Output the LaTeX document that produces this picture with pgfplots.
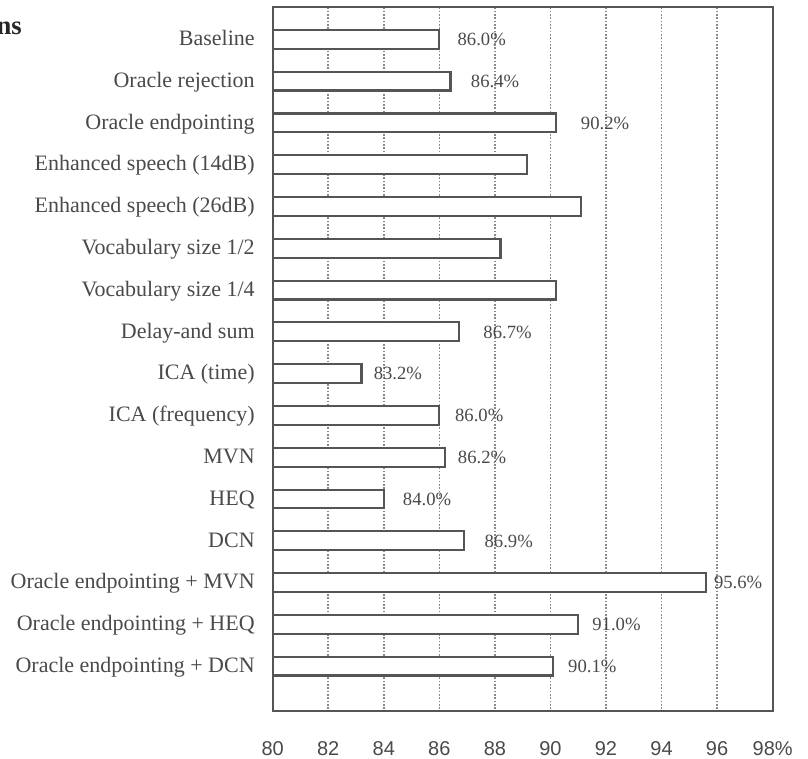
\documentclass[border=0pt]{standalone}
\usepackage{pgfplots}
\pgfplotsset{compat=1.18}
\usepackage{pgfplotstable}
\usepackage{fontspec}
\setmainfont{Liberation Serif}
\newfontfamily\arialf{Liberation Sans}
\definecolor{frame}{HTML}{555555}
\definecolor{txt}{HTML}{4A4A4A}
\definecolor{gridc}{HTML}{8A8A8A}

\pgfplotstableread{
idx val
1 86.0
2 86.4
3 90.2
4 89.15
5 91.1
6 88.2
7 90.2
8 86.7
9 83.2
10 86.0
11 86.2
12 84.0
13 86.9
14 95.6
15 91.0
16 90.1
}\bars

\pgfplotstableread{
idx pos lab
1 86.65 86.0
2 87.13 86.4
3 91.09 90.2
8 87.58 86.7
9 83.63 83.2
10 86.56 86.0
11 86.66 86.2
12 84.68 84.0
13 87.62 86.9
14 95.88 95.6
15 91.50 91.0
16 90.63 90.1
}\labs

\begin{document}
\begin{tikzpicture}
\begin{axis}[
  set layers,
  at={(0,0)}, anchor=south west,
  scale only axis, width=375pt, height=527.55pt,
  xmin=0, xmax=18, ymin=0.234, ymax=17.065, y dir=reverse,
  clip=false,
  axis line style={draw=frame, line width=1.5pt},
  xtick={0,2,...,18},
  xticklabels={80,82,84,86,88,90,92,94,96,98\%},
  ytick={1,...,16},
  yticklabels={Baseline,Oracle rejection,Oracle endpointing,Enhanced speech (14dB),Enhanced speech (26dB),Vocabulary size 1/2,Vocabulary size 1/4,Delay-and sum,ICA (time),ICA (frequency),MVN,HEQ,DCN,Oracle endpointing + MVN,Oracle endpointing + HEQ,Oracle endpointing + DCN},
  major tick length=0pt,
  xmajorgrids,
  grid style={draw=gridc, line width=1.2pt, dash pattern=on 1.2pt off 1.3pt, /pgfplots/on layer=axis background},
  xticklabel style={font=\arialf\fontsize{15}{15}\selectfont, text=txt, anchor=center, yshift=-28.6pt},
  yticklabel style={font=\fontsize{16.5}{16.5}\selectfont, text=txt, anchor=base east, inner sep=0pt, xshift=-13.3pt, yshift=-4.7pt},
]
\addplot[xbar, bar width=0.45, fill=white, draw=frame, line width=1.6pt]
  table[x expr=\thisrow{val}-80, y=idx] {\bars};
\addplot[draw=none, mark=none,
  point meta=explicit symbolic,
  nodes near coords={\pgfplotspointmeta\%},
  every node near coord/.append style={anchor=base west, inner sep=0pt, yshift=-4.7pt, font=\fontsize{14}{14}\selectfont, text=txt}]
  table[x expr=\thisrow{pos}-80, y=idx, meta=lab] {\labs};
\draw[frame, line width=1.5pt] (rel axis cs:0,0) rectangle (rel axis cs:1,1);
\end{axis}
\node[anchor=base east, inner sep=0pt, font=\bfseries\fontsize{20}{20}\selectfont, text=black!85] at (-188.0pt,506.8pt) {ns};
\pgfresetboundingbox
\path[use as bounding box] (-204.5pt,-35.5pt) rectangle (401.5pt,533.0pt);
\end{tikzpicture}
\end{document}
